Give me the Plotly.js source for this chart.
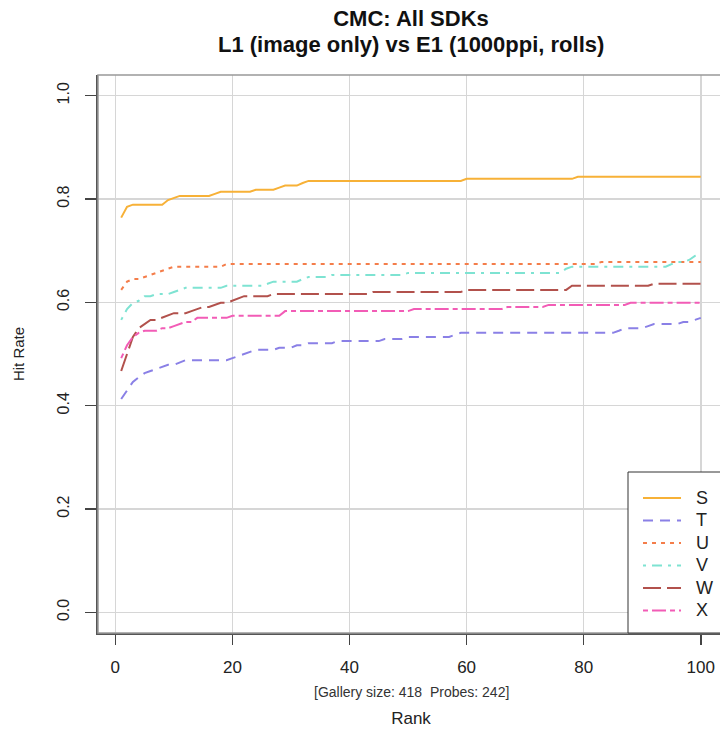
<!DOCTYPE html>
<html>
<head>
<meta charset="utf-8">
<script src="https://cdn.plot.ly/plotly-3.0.1.min.js"></script>
<style>
html,body{margin:0;padding:0;background:#fff;overflow:hidden;}
#chart{width:730px;height:730px;}
</style>
</head>
<body>
<div id="chart"></div>
<script>
// Ranks 1..100
const ranks = Array.from({length: 100}, (_, i) => i + 1);

const seriesNames = ["S", "T", "U", "V", "W", "X"];

const S = [
0.764,0.785,0.789,0.789,0.789,0.789,0.789,0.789,0.798,0.802,
0.806,0.806,0.806,0.806,0.806,0.806,0.810,0.814,0.814,0.814,
0.814,0.814,0.814,0.818,0.818,0.818,0.818,0.822,0.826,0.826,
0.826,0.831,0.835,0.835,0.835,0.835,0.835,0.835,0.835,0.835,
0.835,0.835,0.835,0.835,0.835,0.835,0.835,0.835,0.835,0.835,
0.835,0.835,0.835,0.835,0.835,0.835,0.835,0.835,0.835,0.839,
0.839,0.839,0.839,0.839,0.839,0.839,0.839,0.839,0.839,0.839,
0.839,0.839,0.839,0.839,0.839,0.839,0.839,0.839,0.843,0.843,
0.843,0.843,0.843,0.843,0.843,0.843,0.843,0.843,0.843,0.843,
0.843,0.843,0.843,0.843,0.843,0.843,0.843,0.843,0.843,0.843];

const T = [
0.413,0.430,0.446,0.455,0.463,0.467,0.471,0.475,0.479,0.479,
0.483,0.488,0.488,0.488,0.488,0.488,0.488,0.488,0.488,0.492,
0.496,0.500,0.504,0.508,0.508,0.508,0.508,0.512,0.512,0.512,
0.517,0.517,0.521,0.521,0.521,0.521,0.521,0.525,0.525,0.525,
0.525,0.525,0.525,0.525,0.525,0.529,0.529,0.529,0.529,0.533,
0.533,0.533,0.533,0.533,0.533,0.533,0.533,0.537,0.541,0.541,
0.541,0.541,0.541,0.541,0.541,0.541,0.541,0.541,0.541,0.541,
0.541,0.541,0.541,0.541,0.541,0.541,0.541,0.541,0.541,0.541,
0.541,0.541,0.541,0.541,0.541,0.545,0.550,0.550,0.550,0.550,
0.554,0.558,0.558,0.558,0.558,0.558,0.562,0.562,0.566,0.570];

const U = [
0.624,0.640,0.645,0.645,0.649,0.653,0.657,0.661,0.665,0.669,
0.669,0.669,0.669,0.669,0.669,0.669,0.669,0.669,0.674,0.674,
0.674,0.674,0.674,0.674,0.674,0.674,0.674,0.674,0.674,0.674,
0.674,0.674,0.674,0.674,0.674,0.674,0.674,0.674,0.674,0.674,
0.674,0.674,0.674,0.674,0.674,0.674,0.674,0.674,0.674,0.674,
0.674,0.674,0.674,0.674,0.674,0.674,0.674,0.674,0.674,0.674,
0.674,0.674,0.674,0.674,0.674,0.674,0.674,0.674,0.674,0.674,
0.674,0.674,0.674,0.674,0.674,0.674,0.674,0.674,0.674,0.674,
0.674,0.674,0.678,0.678,0.678,0.678,0.678,0.678,0.678,0.678,
0.678,0.678,0.678,0.678,0.678,0.678,0.678,0.678,0.678,0.678];

const V = [
0.566,0.587,0.599,0.603,0.612,0.612,0.616,0.616,0.616,0.620,
0.624,0.628,0.628,0.628,0.628,0.628,0.628,0.628,0.632,0.632,
0.632,0.632,0.632,0.632,0.632,0.636,0.640,0.640,0.640,0.640,
0.640,0.645,0.649,0.649,0.649,0.649,0.653,0.653,0.653,0.653,
0.653,0.653,0.653,0.653,0.653,0.653,0.653,0.653,0.653,0.657,
0.657,0.657,0.657,0.657,0.657,0.657,0.657,0.657,0.657,0.657,
0.657,0.657,0.657,0.657,0.657,0.657,0.657,0.657,0.657,0.657,
0.657,0.657,0.657,0.657,0.657,0.657,0.665,0.669,0.669,0.669,
0.669,0.669,0.669,0.669,0.669,0.669,0.669,0.669,0.669,0.669,
0.669,0.669,0.669,0.669,0.674,0.678,0.678,0.682,0.690,0.694];

const W = [
0.467,0.500,0.533,0.550,0.558,0.566,0.566,0.570,0.574,0.579,
0.579,0.579,0.583,0.587,0.591,0.591,0.595,0.599,0.599,0.603,
0.607,0.612,0.612,0.612,0.612,0.612,0.616,0.616,0.616,0.616,
0.616,0.616,0.616,0.616,0.616,0.616,0.616,0.616,0.616,0.616,
0.616,0.616,0.616,0.620,0.620,0.620,0.620,0.620,0.620,0.620,
0.620,0.620,0.620,0.620,0.620,0.620,0.620,0.620,0.620,0.624,
0.624,0.624,0.624,0.624,0.624,0.624,0.624,0.624,0.624,0.624,
0.624,0.624,0.624,0.624,0.624,0.624,0.624,0.632,0.632,0.632,
0.632,0.632,0.632,0.632,0.632,0.632,0.632,0.632,0.632,0.632,
0.632,0.636,0.636,0.636,0.636,0.636,0.636,0.636,0.636,0.636];

const X = [
0.492,0.517,0.533,0.541,0.545,0.545,0.545,0.550,0.550,0.554,
0.558,0.562,0.562,0.570,0.570,0.570,0.570,0.570,0.570,0.574,
0.574,0.574,0.574,0.574,0.574,0.574,0.574,0.574,0.583,0.583,
0.583,0.583,0.583,0.583,0.583,0.583,0.583,0.583,0.583,0.583,
0.583,0.583,0.583,0.583,0.583,0.583,0.583,0.583,0.583,0.583,
0.587,0.587,0.587,0.587,0.587,0.587,0.587,0.587,0.587,0.587,
0.587,0.587,0.587,0.587,0.587,0.587,0.591,0.591,0.591,0.591,
0.591,0.591,0.591,0.595,0.595,0.595,0.595,0.595,0.595,0.595,
0.595,0.595,0.595,0.595,0.595,0.595,0.595,0.599,0.599,0.599,
0.599,0.599,0.599,0.599,0.599,0.599,0.599,0.599,0.599,0.599];

const xTicks = [0, 20, 40, 60, 80, 100];
const yTicks = [0.0, 0.2, 0.4, 0.6, 0.8, 1.0];
const yTickText = ["0.0", "0.2", "0.4", "0.6", "0.8", "1.0"];

const titleLine1 = "CMC: All SDKs";
const titleLine2 = "L1 (image only) vs E1 (1000ppi, rolls)";
const footnote = "[Gallery size: 418  Probes: 242]";

const seriesValues = [S, T, U, V, W, X];
const colors = ["#F7B137", "#8A80E6", "#F47D4A", "#7EE3D2", "#B2514C", "#F25CB6"];
const dashes = ["solid", "10px,7px", "4px,5px", "3px,6px,10px,6px", "18px,6px", "5px,4px,14px,4px"];

const font = "Liberation Sans, Arial, Helvetica, sans-serif";

const traces = seriesNames.map((name, i) => ({
  type: "scatter",
  mode: "lines",
  name: '<span style="font-size:18px">&nbsp;&nbsp;' + name + '</span>',
  x: ranks,
  y: seriesValues[i],
  line: {color: colors[i], width: 2, dash: dashes[i]}
}));

const plotLeftPx = 98, plotWidthPx = 626, plotHeightPx = 558;

const layout = {
  width: 730,
  height: 730,
  margin: {l: 98, r: 6, t: 75, b: 97, autoexpand: false},
  paper_bgcolor: "#ffffff",
  plot_bgcolor: "#ffffff",
  font: {family: font, color: "#222", size: 15},
  title: {
    text: "<b>" + titleLine1 + "</b>",
    font: {family: font, size: 22, color: "#111"},
    x: 0.5, xref: "paper", xanchor: "center",
    y: 1 - 18 / 730, yref: "container", yanchor: "middle"
  },
  xaxis: {
    range: [-2.96, 103.96],
    tickvals: xTicks,
    ticktext: xTicks.map(String),
    ticks: "outside", ticklen: 10, tickwidth: 1.5, tickcolor: "#444",
    ticklabelstandoff: 8,
    showgrid: true, gridcolor: "#d6d6d6", gridwidth: 1.5,
    zeroline: false,
    showline: true, linecolor: "#555", linewidth: 2,
    tickfont: {size: 17, color: "#222"},
    title: {text: "Rank", font: {size: 17, color: "#222"}, standoff: 36}
  },
  yaxis: {
    range: [-0.04, 1.04],
    tickvals: yTicks,
    ticktext: yTickText,
    tickangle: -90,
    ticks: "outside", ticklen: 11, tickwidth: 1.5, tickcolor: "#444",
    ticklabelstandoff: 10,
    showgrid: true, gridcolor: "#d6d6d6", gridwidth: 1.5,
    zeroline: false,
    showline: true, linecolor: "#555", linewidth: 2,
    tickfont: {size: 16, color: "#222"},
    title: {text: "Hit Rate", font: {size: 15, color: "#222"}, standoff: 26}
  },
  legend: {
    x: (638 - plotLeftPx) / plotWidthPx, xanchor: "left", xref: "paper",
    y: 0.011, yanchor: "bottom", yref: "paper",
    bgcolor: "rgba(0,0,0,0)", borderwidth: 0,
    font: {size: 15, color: "#222"},
    itemwidth: 38,
    tracegroupgap: 0
  },
  shapes: [{
    type: "rect", xref: "paper", yref: "paper", x0: 0, x1: 1, y0: 0, y1: 1,
    line: {color: "#999", width: 1.5}, fillcolor: "rgba(0,0,0,0)", layer: "above"
  }, {
    type: "rect", xref: "paper", yref: "paper",
    x0: (628 - plotLeftPx) / plotWidthPx, x1: 1.05,
    y0: 0, y1: (633 - 472) / plotHeightPx,
    line: {color: "#333", width: 1}, fillcolor: "#ffffff", layer: "above"
  }],
  annotations: [{
    text: "<b>" + titleLine2 + "</b>",
    xref: "paper", yref: "paper", x: 0.5, y: 1, yshift: 31,
    xanchor: "center", yanchor: "middle",
    showarrow: false, font: {family: font, size: 22, color: "#111"}
  }, {
    text: footnote,
    xref: "paper", yref: "paper", x: 0.5, y: 0, yshift: -59,
    xanchor: "center", yanchor: "middle",
    showarrow: false, font: {size: 14, color: "#333"}
  }],
  showlegend: true
};

Plotly.newPlot("chart", traces, layout, {displayModeBar: false, staticPlot: true});
</script>
</body>
</html>
